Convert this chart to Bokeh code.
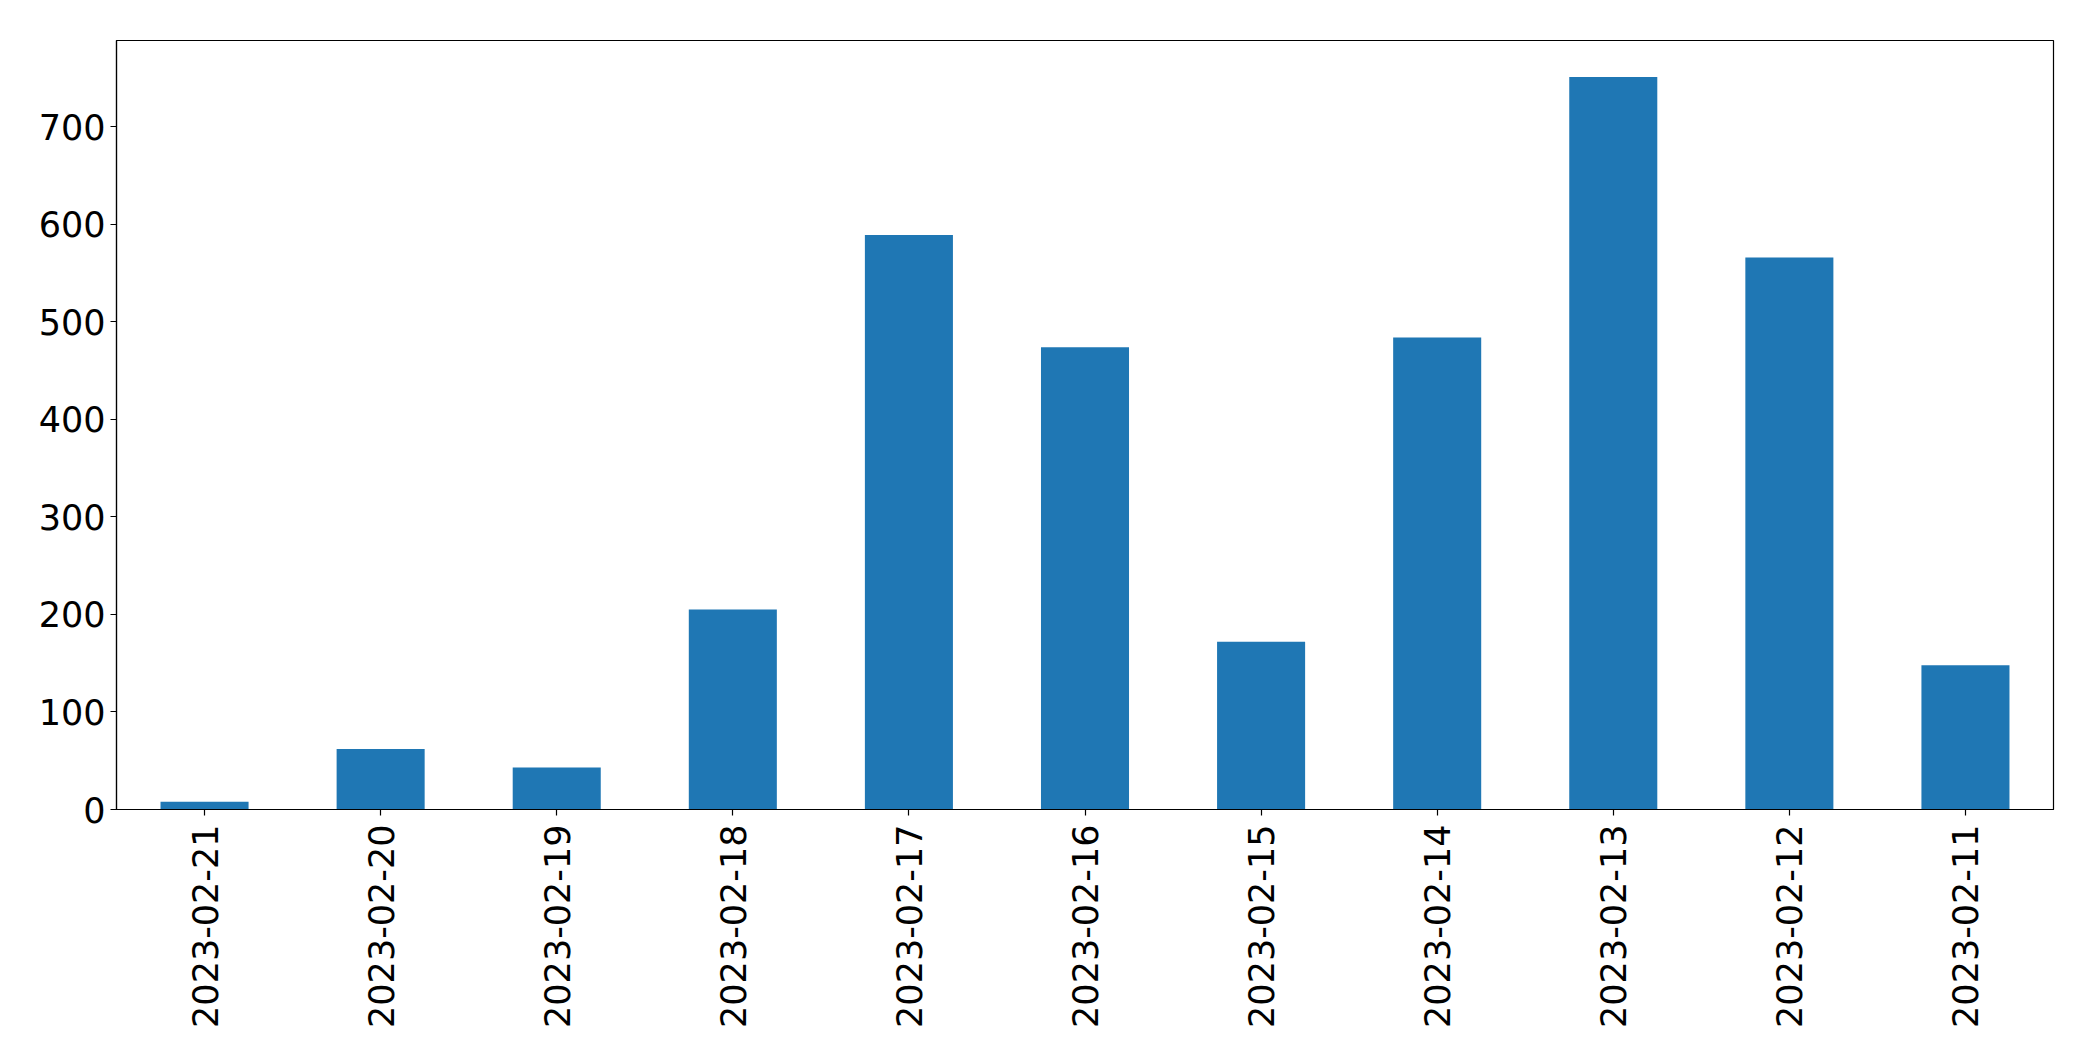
import math
from bokeh.plotting import figure
from bokeh.models import Range1d, FactorRange, FixedTicker, ColumnDataSource
from bokeh.embed import file_html
from bokeh.resources import INLINE

dates = ["2023-02-21", "2023-02-20", "2023-02-19", "2023-02-18", "2023-02-17",
         "2023-02-16", "2023-02-15", "2023-02-14", "2023-02-13", "2023-02-12",
         "2023-02-11"]
counts = [8, 62, 43, 205, 589, 474, 172, 484, 751, 566, 148]
y_ticks = [0, 100, 200, 300, 400, 500, 600, 700]

source = ColumnDataSource(data=dict(date=dates, count=counts))

p = figure(
    x_range=FactorRange(factors=dates),
    y_range=Range1d(0, max(counts) * 1.05),
    frame_width=1937, frame_height=769,
    min_border_left=116, min_border_right=24, min_border_top=40, min_border_bottom=228,
    output_backend="svg", toolbar_location=None,
)
p.vbar(x="date", top="count", width=0.5, source=source,
       fill_color="#1f77b4", line_color=None)

p.xgrid.grid_line_color = None
p.ygrid.grid_line_color = None
p.outline_line_color = "black"
p.outline_line_width = 1.2
p.outline_line_alpha = 1.0

p.yaxis.ticker = FixedTicker(ticks=y_ticks)
p.yaxis.minor_tick_line_color = None

for ax in (p.xaxis[0], p.yaxis[0]):
    ax.axis_line_color = "black"
    ax.axis_line_width = 1.2
    ax.major_tick_line_color = "black"
    ax.major_tick_line_width = 1.2
    ax.major_tick_out = 6
    ax.major_tick_in = 0
    ax.major_label_text_font = "DejaVu Sans"
    ax.major_label_text_font_size = "35px"
    ax.major_label_text_color = "black"

p.xaxis.major_label_standoff = 9
p.yaxis.major_label_standoff = 5
p.xaxis.major_label_orientation = math.pi / 2

open("out.html", "w").write(file_html(p, INLINE))
